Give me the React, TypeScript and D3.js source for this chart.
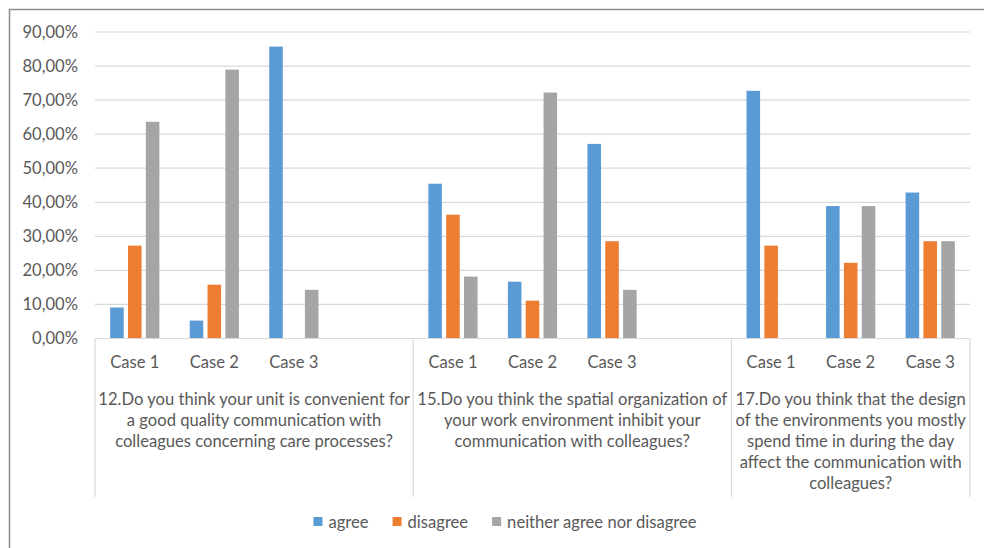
import React, { useEffect, useRef } from "react";
import * as d3 from "d3";

const seriesNames = ["agree", "disagree", "neither agree nor disagree"];
const seriesColors = ["#5B9BD5", "#ED7D31", "#A5A5A5"];

const questionLabels = [
  "12.Do you think your unit is convenient for\na good quality communication with\ncolleagues concerning care processes?",
  "15.Do you think the spatial organization of\nyour work environment inhibit your\ncommunication with colleagues?",
  "17.Do you think that the design\nof the environments you mostly\nspend time in during the day\naffect the communication with\ncolleagues?",
];

// Case labels per question ("" = empty category slot in the source chart)
const caseLabels = [
  ["Case 1", "Case 2", "Case 3", ""],
  ["Case 1", "Case 2", "Case 3", ""],
  ["Case 1", "Case 2", "Case 3"],
];

// values for the non-empty case slots, in order
const agreeValues = [0.0909, 0.0526, 0.8571, 0.4545, 0.1667, 0.5714, 0.7273, 0.3889, 0.4286];
const disagreeValues = [0.2727, 0.1579, 0, 0.3636, 0.1111, 0.2857, 0.2727, 0.2222, 0.2857];
const neitherValues = [0.6364, 0.7895, 0.1429, 0.1818, 0.7222, 0.1429, 0, 0.3889, 0.2857];

const yTicks = [0, 0.1, 0.2, 0.3, 0.4, 0.5, 0.6, 0.7, 0.8, 0.9];

const W = 984;
const H = 548;
const FONT = "Lato, 'Open Sans', sans-serif";
const FS = 16.6;
const TXT = "#595959";

export default function App() {
  const ref = useRef<SVGSVGElement | null>(null);

  useEffect(() => {
    const svg = d3.select(ref.current);
    svg.selectAll("*").remove();

    const left = 95, right = 970, top = 32, bottom = 338.5;
    const y = d3.scaleLinear().domain([0, 0.9]).range([bottom, top]);

    const slots: { id: string; q: number; label: string }[] = [];
    caseLabels.forEach((cs, qi) =>
      cs.forEach((c, ci) => slots.push({ id: `${qi}-${ci}`, q: qi, label: c }))
    );
    const x = d3.scaleBand<string>().domain(slots.map((s) => s.id)).range([left, right]);
    const xi = d3
      .scaleBand<string>()
      .domain(seriesNames)
      .range([0, x.bandwidth()])
      .paddingInner(0.24)
      .paddingOuter(0.85);

    const fmt = d3
      .formatLocale({ decimal: ",", thousands: ".", grouping: [3], currency: ["", "€"] })
      .format(".2%");

    // outer frame
    svg
      .append("rect")
      .attr("x", 9.5)
      .attr("y", 9.5)
      .attr("width", 1000)
      .attr("height", 600)
      .attr("fill", "#fff")
      .attr("stroke", "#8a8a8a")
      .attr("stroke-width", 1.5);

    // gridlines
    svg
      .append("g")
      .selectAll("line")
      .data(yTicks.filter((t) => t > 0))
      .join("line")
      .attr("x1", left)
      .attr("x2", right)
      .attr("y1", (d) => y(d))
      .attr("y2", (d) => y(d))
      .attr("stroke", "#d9d9d9")
      .attr("stroke-width", 1.2);

    // y labels
    svg
      .append("g")
      .selectAll("text")
      .data(yTicks)
      .join("text")
      .attr("x", 78)
      .attr("y", (d) => y(d) + 5.8)
      .attr("text-anchor", "end")
      .attr("font-family", FONT)
      .attr("font-size", FS)
      .attr("fill", TXT)
      .text((d) => fmt(d));

    // bars
    const filled = slots.filter((s) => s.label !== "");
    const valueSets = [agreeValues, disagreeValues, neitherValues];
    const bars: { slot: string; s: number; v: number }[] = [];
    filled.forEach((sl, i) => {
      valueSets.forEach((vals, si) => bars.push({ slot: sl.id, s: si, v: vals[i] }));
    });
    svg
      .append("g")
      .selectAll("rect")
      .data(bars.filter((b) => b.v > 0))
      .join("rect")
      .attr("x", (d) => (x(d.slot) as number) + (xi(seriesNames[d.s]) as number))
      .attr("width", xi.bandwidth())
      .attr("y", (d) => y(d.v))
      .attr("height", (d) => y(0) - y(d.v))
      .attr("fill", (d) => seriesColors[d.s]);

    // category axis lines
    const axisG = svg.append("g").attr("stroke", "#d9d9d9").attr("stroke-width", 1.2);
    axisG.append("line").attr("x1", left).attr("x2", right).attr("y1", bottom).attr("y2", bottom);
    const bounds: number[] = [];
    caseLabels.forEach((cs, qi) => {
      const first = x(`${qi}-0`) as number;
      bounds.push(first);
    });
    bounds.push(right);
    axisG
      .selectAll("line.sep")
      .data(bounds)
      .join("line")
      .attr("class", "sep")
      .attr("x1", (d) => d)
      .attr("x2", (d) => d)
      .attr("y1", bottom)
      .attr("y2", 497);

    // case labels
    svg
      .append("g")
      .selectAll("text")
      .data(filled)
      .join("text")
      .attr("x", (d) => (x(d.id) as number) + x.bandwidth() / 2)
      .attr("y", 368)
      .attr("text-anchor", "middle")
      .attr("font-family", FONT)
      .attr("font-size", FS)
      .attr("fill", TXT)
      .text((d) => d.label);

    // question labels
    questionLabels.forEach((q, qi) => {
      const cx = (bounds[qi] + bounds[qi + 1]) / 2;
      const t = svg
        .append("text")
        .attr("text-anchor", "middle")
        .attr("font-family", FONT)
        .attr("font-size", FS)
        .attr("fill", TXT);
      q.split("\n").forEach((line, li) => {
        t.append("tspan").attr("x", cx).attr("y", 405 + li * 21).text(line);
      });
    });

    // legend
    const lg = svg.append("g");
    let cursor = 0;
    seriesNames.forEach((name, i) => {
      const g = lg.append("g").attr("transform", `translate(${cursor},0)`);
      g.append("rect").attr("x", 0).attr("y", 517).attr("width", 9).attr("height", 9).attr("fill", seriesColors[i]);
      const tx = g
        .append("text")
        .attr("x", 15)
        .attr("y", 527.5)
        .attr("font-family", FONT)
        .attr("font-size", FS)
        .attr("fill", TXT)
        .text(name);
      const w = (tx.node() as SVGTextElement).getComputedTextLength();
      cursor += 15 + w + 24;
    });
    const totalW = cursor - 24;
    lg.attr("transform", `translate(${505 - totalW / 2},0)`);
  }, []);

  return (
    <svg
      ref={ref}
      width={W}
      height={H}
      style={{ position: "absolute", left: 0, top: 0, display: "block" }}
    />
  );
}
